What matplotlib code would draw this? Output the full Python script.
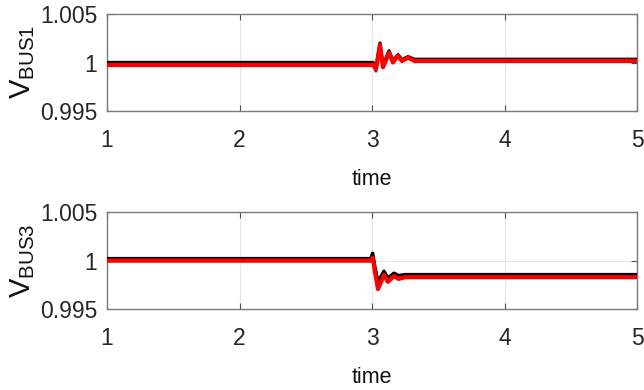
import matplotlib
matplotlib.use("Agg")
import matplotlib.pyplot as plt

plt.rcParams['font.family'] = ['Liberation Sans', 'DejaVu Sans']
plt.rcParams['mathtext.fontset'] = 'custom'
plt.rcParams['mathtext.rm'] = 'Liberation Sans'

# ---- data ----
# BUS1
t1_black = [1.0, 3.0, 3.008, 3.030, 3.060, 3.083, 3.128, 3.158, 3.196, 3.226, 3.272, 3.32, 5.0]
v1_black = [1.0000, 1.0000, 1.0000, 0.9994, 1.0020, 0.9997, 1.0012, 1.0002, 1.0008, 1.0003, 1.0006, 1.00033, 1.00033]
t1_red = [1.0, 3.0, 3.008, 3.030, 3.060, 3.083, 3.128, 3.158, 3.196, 3.226, 3.272, 3.32, 5.0]
v1_red = [0.99974, 0.99974, 0.99978, 0.9993, 1.0018, 0.9995, 1.0010, 1.0000, 1.0007, 1.00015, 1.0005, 1.00016, 1.00016]
t1_blue = [1.0, 3.0, 3.010, 3.030, 3.060, 3.083, 3.128, 3.158, 3.196, 3.226, 3.272, 3.32, 5.0]
v1_blue = [0.99985, 0.99985, 0.9998, 0.9991, 1.0018, 0.9995, 1.0010, 1.0001, 1.0007, 1.0002, 1.0005, 1.00025, 1.00025]

# BUS3
t3_black = [1.0, 2.99, 3.005, 3.020, 3.045, 3.090, 3.120, 3.166, 3.20, 3.25, 5.0]
v3_black = [1.0002, 1.0002, 1.00075, 0.9995, 0.9978, 0.9989, 0.9982, 0.9987, 0.99845, 0.99855, 0.99855]
t3_red = [1.0, 2.99, 3.005, 3.020, 3.045, 3.090, 3.120, 3.166, 3.20, 3.25, 5.0]
v3_red = [0.99998, 0.99998, 1.0003, 0.9990, 0.99705, 0.9985, 0.9978, 0.9984, 0.9981, 0.99828, 0.99828]
t3_blue = [1.0, 2.99, 3.005, 3.020, 3.045, 3.090, 3.120, 3.166, 3.20, 3.25, 5.0]
v3_blue = [1.0001, 1.0001, 1.0005, 0.9993, 0.9974, 0.9987, 0.9980, 0.9986, 0.9983, 0.9984, 0.9984]

xticks = [1, 2, 3, 4, 5]
yticks = [0.995, 1.0, 1.005]
ytick_labels = ['0.995', '1', '1.005']
ylabels = [r'$\mathregular{V_{BUS1}}$', r'$\mathregular{V_{BUS3}}$']

W, H = 644, 390
fig = plt.figure(figsize=(W / 100, H / 100), dpi=100)

def make_ax(top_px, bottom_px):
    return fig.add_axes([107 / W, 1 - bottom_px / H, 530 / W, (bottom_px - top_px) / H])

ax1 = make_ax(14, 111)
ax3 = make_ax(212, 309)

series = [
    (ax1, (t1_blue, v1_blue), (t1_black, v1_black), (t1_red, v1_red), ylabels[0]),
    (ax3, (t3_blue, v3_blue), (t3_black, v3_black), (t3_red, v3_red), ylabels[1]),
]

for ax, blue, black, red, ylab in series:
    ax.plot(*blue, color='#1f1fd0', lw=2.0, zorder=2)
    ax.plot(*black, color='black', lw=2.4, zorder=3)
    ax.plot(*red, color='#ff0000', lw=3.0, zorder=4)
    ax.set_xlim(1, 5)
    ax.set_ylim(0.995, 1.005)
    ax.set_xticks(xticks)
    ax.set_xticklabels([str(x) for x in xticks])
    ax.set_yticks(yticks)
    ax.set_yticklabels(ytick_labels)
    ax.grid(True, color='#e6e6e6', lw=0.8, zorder=0)
    ax.set_axisbelow(True)
    for s in ax.spines.values():
        s.set_color('#7a7a7a')
        s.set_linewidth(1.0)
    ax.tick_params(direction='in', length=4, width=0.8, color='#4d4d4d',
                   labelsize=16.5, labelcolor='#262626', top=True, right=True)
    ax.tick_params(axis='x', pad=13)
    ax.tick_params(axis='y', pad=7)
    ax.set_xlabel('time', fontsize=15.5, color='#111111', labelpad=12)
    ax.set_ylabel(ylab, fontsize=21, color='#111111', labelpad=2)

fig.savefig('out.png', dpi=100, facecolor='white')
